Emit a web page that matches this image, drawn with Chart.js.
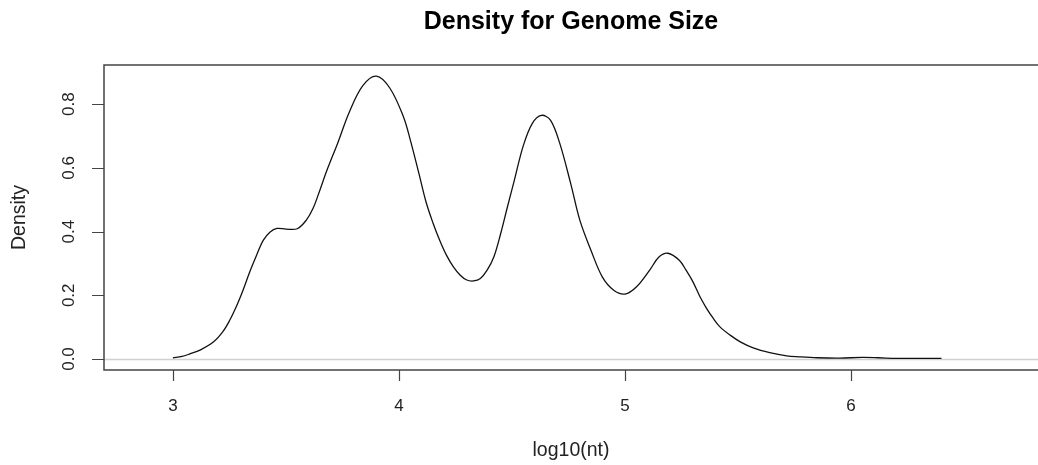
<!DOCTYPE html>
<html lang="en">
<head>
    <meta charset="UTF-8">
    <title>Density for Genome Size</title>
    <script src="https://cdn.jsdelivr.net/npm/chart.js"></script>
    <style>
        body {
            margin: 0;
            background: #fff;
        }
        .chart-container {
            position: relative;
            width: 1038px;
            height: 465px;
        }
    </style>
</head>
<body>
    <div class="chart-container">
        <canvas id="densityChart"></canvas>
    </div>

    <script>
        // density estimate of log10(genome size)
        const logSize = [3.00, 3.04, 3.075, 3.12, 3.18, 3.22, 3.25, 3.28, 3.31, 3.34,
                         3.37, 3.40, 3.43, 3.46, 3.50, 3.55, 3.59, 3.62, 3.65, 3.68,
                         3.73, 3.78, 3.84, 3.90, 3.96, 4.02, 4.05, 4.09, 4.12, 4.15,
                         4.18, 4.21, 4.24, 4.27, 4.30, 4.33, 4.36, 4.39, 4.42, 4.45,
                         4.48, 4.51, 4.55, 4.59, 4.63, 4.67, 4.71, 4.76, 4.80, 4.85,
                         4.90, 4.95, 5.00, 5.05, 5.11, 5.15, 5.19, 5.24, 5.27, 5.30,
                         5.33, 5.36, 5.39, 5.42, 5.465, 5.51, 5.57, 5.64, 5.715, 5.77,
                         5.85, 5.95, 6.05, 6.12, 6.20, 6.30, 6.40];
        const density = [0.004, 0.008, 0.016, 0.028, 0.054, 0.085, 0.120, 0.164, 0.216, 0.274,
                         0.326, 0.373, 0.399, 0.410, 0.408, 0.409, 0.436, 0.473, 0.530, 0.590,
                         0.680, 0.775, 0.858, 0.888, 0.850, 0.760, 0.688, 0.577, 0.492, 0.428,
                         0.373, 0.326, 0.290, 0.264, 0.248, 0.245, 0.253, 0.279, 0.321, 0.394,
                         0.478, 0.560, 0.670, 0.740, 0.765, 0.750, 0.680, 0.550, 0.436, 0.340,
                         0.257, 0.216, 0.204, 0.226, 0.280, 0.320, 0.332, 0.310, 0.279, 0.243,
                         0.198, 0.160, 0.128, 0.101, 0.075, 0.054, 0.034, 0.020, 0.010, 0.007,
                         0.004, 0.003, 0.005, 0.004, 0.002, 0.002, 0.002];
        const xTicks = [3, 4, 5, 6];
        const yTicks = [0.0, 0.2, 0.4, 0.6, 0.8];

        const titleText = 'Density for Genome Size';
        const xLabel = 'log10(nt)';
        const yLabel = 'Density';

        const FONT = '"Liberation Sans", Arial, sans-serif';

        // R base graphics look: box, outward ticks, rotated y labels, grey zero line
        const rAxes = {
            id: 'rAxes',
            beforeDatasetsDraw(chart) {
                const { ctx, chartArea: a, scales: { y } } = chart;
                const y0 = Math.round(y.getPixelForValue(0)) + 0.5;
                ctx.save();
                ctx.strokeStyle = '#d0d0d0';
                ctx.lineWidth = 1.5;
                ctx.beginPath();
                ctx.moveTo(a.left, y0);
                ctx.lineTo(a.right, y0);
                ctx.stroke();
                ctx.restore();
            },
            afterDraw(chart) {
                const { ctx, chartArea: a, scales: { x, y } } = chart;
                ctx.save();
                ctx.strokeStyle = '#444';
                ctx.lineWidth = 1.5;
                ctx.beginPath();
                ctx.moveTo(a.right + 5, a.top);
                ctx.lineTo(a.left, a.top);
                ctx.lineTo(a.left, a.bottom);
                ctx.lineTo(a.right + 5, a.bottom);
                ctx.stroke();

                ctx.lineWidth = 1.2;
                ctx.beginPath();
                xTicks.forEach(v => {
                    const px = Math.round(x.getPixelForValue(v)) + 0.5;
                    ctx.moveTo(px, a.bottom);
                    ctx.lineTo(px, a.bottom + 11);
                });
                yTicks.forEach(v => {
                    const py = Math.round(y.getPixelForValue(v)) + 0.5;
                    ctx.moveTo(a.left, py);
                    ctx.lineTo(a.left - 12, py);
                });
                ctx.stroke();

                ctx.fillStyle = '#222';
                ctx.font = '17px ' + FONT;
                ctx.textAlign = 'center';
                ctx.textBaseline = 'alphabetic';
                xTicks.forEach(v => {
                    ctx.fillText(String(v), x.getPixelForValue(v), 411);
                });
                yTicks.forEach(v => {
                    ctx.save();
                    ctx.translate(74, y.getPixelForValue(v));
                    ctx.rotate(-Math.PI / 2);
                    ctx.fillText(v.toFixed(1), 0, 0);
                    ctx.restore();
                });

                const midX = (a.left + 1038) / 2;
                ctx.font = '19.5px ' + FONT;
                ctx.fillText(xLabel, midX, 456);
                ctx.save();
                ctx.translate(25, (a.top + a.bottom) / 2);
                ctx.rotate(-Math.PI / 2);
                ctx.fillText(yLabel, 0, 0);
                ctx.restore();

                ctx.fillStyle = '#000';
                ctx.font = 'bold 25px ' + FONT;
                ctx.fillText(titleText, midX, 29);
                ctx.restore();
            }
        };

        const ctx = document.getElementById('densityChart').getContext('2d');
        const chart = new Chart(ctx, {
            type: 'line',
            data: {
                datasets: [{
                    data: logSize.map((v, i) => ({ x: v, y: density[i] })),
                    borderColor: '#111',
                    borderWidth: 1.3,
                    pointRadius: 0,
                    fill: false,
                    tension: 0.35
                }]
            },
            options: {
                responsive: true,
                maintainAspectRatio: false,
                animation: false,
                layout: {
                    padding: { left: 104, right: 0, top: 65, bottom: 95 }
                },
                plugins: {
                    legend: { display: false },
                    title: { display: false },
                    tooltip: { enabled: false }
                },
                scales: {
                    x: { type: 'linear', min: 2.695, max: 6.827, display: false },
                    y: { min: -0.0345, max: 0.923, display: false }
                }
            },
            plugins: [rAxes]
        });
    </script>
</body>
</html>
